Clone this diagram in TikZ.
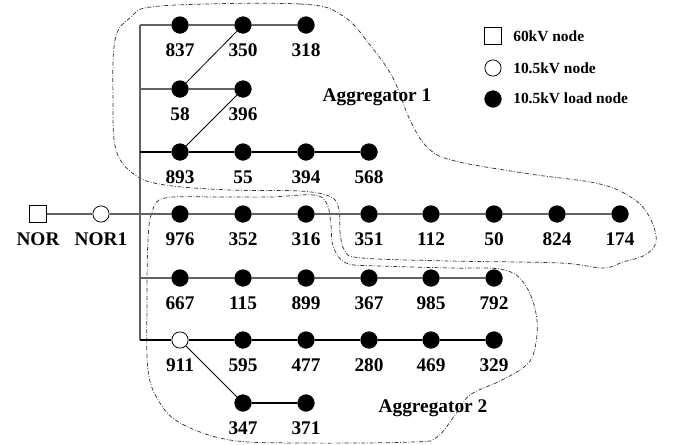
\documentclass[tikz,border=0pt]{standalone}
\usepackage{fontspec}
\setmainfont{Liberation Serif}
\begin{document}
\begin{tikzpicture}[x=0.75pt,y=-0.75pt,
  load/.style={circle,fill=black,draw=black,minimum size=12.5pt,inner sep=0pt},
  opennode/.style={circle,fill=white,draw=black,line width=0.6pt,minimum size=12.2pt,inner sep=0pt},
  sqnode/.style={rectangle,fill=white,draw=black,line width=0.6pt,minimum size=12.2pt,inner sep=0pt},
  lbl/.style={font=\fontsize{14.5}{16}\selectfont\bfseries,inner sep=0pt},
  lgt/.style={font=\fontsize{11.6}{13}\selectfont\bfseries,inner sep=0pt,anchor=west},
  label distance=7.3pt,
  gline/.style={draw=black!62,line width=1.1pt},
  bline/.style={draw=black,line width=0.9pt},
  diag/.style={draw=black,line width=0.6pt},
  agg/.style={draw=black!80,line width=0.55pt,dash pattern=on 3pt off 1.3pt on 0.6pt off 1.3pt},
]
\useasboundingbox (0,0) rectangle (675,444);

% aggregator outlines
\draw[agg] plot[smooth cycle,tension=0.6] coordinates {
 (160,6) (300,4) (343,16) (370,45) (393,78) (410,120) (428,148) (455,161) (530,174) (600,184) (635,200) (651,220) (656,242) (645,255) (623,262) (603,268) (560,263) (450,261) (362,258) (345,251) (340,232) (339,210) (331,197) (300,191) (230,190) (165,185) (135,175) (116,150) (113,100) (115,40) (130,18)};
\draw[agg] plot[smooth cycle,tension=0.6] coordinates {
 (165,198) (220,197) (270,197) (314,195) (327,204) (331,225) (333,246) (346,263) (380,266) (450,268) (505,270) (527,288) (537,320) (534,352) (524,367) (500,381) (470,395) (455,415) (437,437) (413,442) (300,443) (230,440) (182,424) (160,403) (148,370) (147,300) (148,240) (152,212)};

% bus coordinates
\coordinate (b1) at (140,25);
\coordinate (b2) at (140,89);
\coordinate (b3) at (140,152);
\coordinate (b5) at (140,278);
\coordinate (b6) at (140,340);

% nodes
\node[load,label={[lbl]below:837}] (n837) at (180,25) {};
\node[load,label={[lbl]below:350}] (n350) at (243,25) {};
\node[load,label={[lbl]below:318}] (n318) at (306,25) {};

\node[load,label={[lbl]below:58}] (n58) at (180,89) {};
\node[load,label={[lbl]below:396}] (n396) at (243,89) {};

\node[load,label={[lbl]below:893}] (n893) at (180,152) {};
\node[load,label={[lbl]below:55}] (n55) at (243,152) {};
\node[load,label={[lbl]below:394}] (n394) at (306,152) {};
\node[load,label={[lbl]below:568}] (n568) at (369,152) {};

\node[sqnode,label={[lbl]below:NOR}] (nor) at (38,214) {};
\node[opennode,label={[lbl]below:NOR1}] (nor1) at (101,214) {};
\node[load,label={[lbl]below:976}] (n976) at (180,214) {};
\node[load,label={[lbl]below:352}] (n352) at (243,214) {};
\node[load,label={[lbl]below:316}] (n316) at (306,214) {};
\node[load,label={[lbl]below:351}] (n351) at (369,214) {};
\node[load,label={[lbl]below:112}] (n112) at (431,214) {};
\node[load,label={[lbl]below:50}] (n50) at (494,214) {};
\node[load,label={[lbl]below:824}] (n824) at (557,214) {};
\node[load,label={[lbl]below:174}] (n174) at (620,214) {};

\node[load,label={[lbl]below:667}] (n667) at (180,278) {};
\node[load,label={[lbl]below:115}] (n115) at (243,278) {};
\node[load,label={[lbl]below:899}] (n899) at (306,278) {};
\node[load,label={[lbl]below:367}] (n367) at (369,278) {};
\node[load,label={[lbl]below:985}] (n985) at (431,278) {};
\node[load,label={[lbl]below:792}] (n792) at (494,278) {};

\node[opennode,label={[lbl]below:911}] (n911) at (180,340) {};
\node[load,label={[lbl]below:595}] (n595) at (243,340) {};
\node[load,label={[lbl]below:477}] (n477) at (306,340) {};
\node[load,label={[lbl]below:280}] (n280) at (369,340) {};
\node[load,label={[lbl]below:469}] (n469) at (431,340) {};
\node[load,label={[lbl]below:329}] (n329) at (494,340) {};

\node[load,label={[lbl]below:347}] (n347) at (243,403) {};
\node[load,label={[lbl]below:371}] (n371) at (306,403) {};

% connectors
\draw[gline] (b1) -- (b6);
\draw[gline] (b1) -- (n837) -- (n350) -- (n318);
\draw[gline] (b2) -- (n58) -- (n396);
\draw[bline] (b3) -- (n893) -- (n55) -- (n394) -- (n568);
\draw[gline] (nor) -- (nor1) -- (n976) -- (n352) -- (n316) -- (n351) -- (n112) -- (n50) -- (n824) -- (n174);
\draw[gline] (b5) -- (n667) -- (n115) -- (n899) -- (n367) -- (n985) -- (n792);
\draw[bline] (b6) -- (n911) -- (n595) -- (n477) -- (n280) -- (n469) -- (n329);
\draw[bline] (n347) -- (n371);
\draw[diag] (n58) -- (n350);
\draw[diag] (n893) -- (n396);
\draw[diag] (n911) -- (n347);

% aggregator labels
\node[lbl] (a1) at (377,97) {Aggregator 1};
\node[lbl] (a2) at (433,408) {Aggregator 2};

% legend
\node[sqnode] (lg1) at (493,36) {};
\node[opennode] (lg2) at (493,68) {};
\node[load] (lg3) at (493,99) {};
\node[lgt] (lt1) at (513,36) {60kV node};
\node[lgt] (lt2) at (513,68) {10.5kV node};
\node[lgt] (lt3) at (513,98) {10.5kV load node};
\end{tikzpicture}
\end{document}
